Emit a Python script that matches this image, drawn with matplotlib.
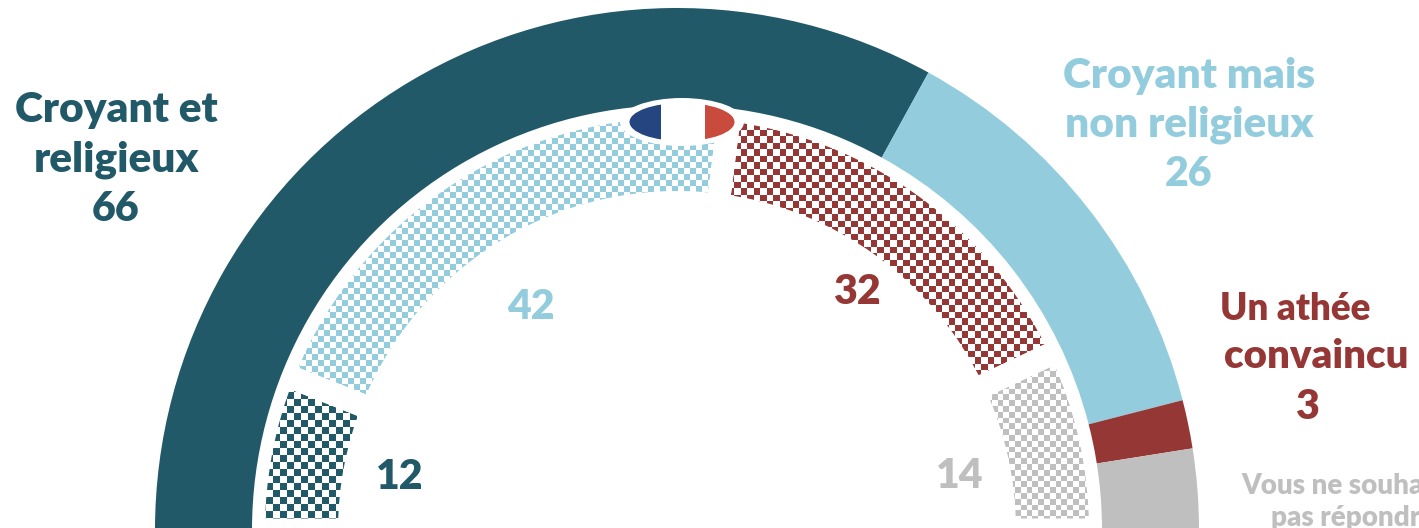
import numpy as np
import matplotlib
matplotlib.use('Agg')
import matplotlib.pyplot as plt
from matplotlib.colors import ListedColormap
from matplotlib.patches import Ellipse, Rectangle

# Outer ring, share of answers
outer_values = [66, 26, 3, 5]
# Inner ring
inner_values = [12, 42, 32, 14]
inner_labels = ['12', '42', '32', '14']

TEAL = '#215968'
SKY = '#93CDDD'
RED = '#953735'
GREY = '#BFBFBF'
colors = [TEAL, SKY, RED, GREY]

# checker size in pixels for each inner slice
cell_sizes = [7, 6, 6.5, 5.8]

# layout, in pixels of the 1419x528 image
W, H = 1419, 528
cx, cy = 677, 530
GAP = 23

plt.rcParams['font.family'] = ['Lato', 'DejaVu Sans']

fig = plt.figure(figsize=(W / 100, H / 100), dpi=100)
ax = fig.add_axes([0, 0, 1, 1])

# y axis runs downwards, so counterclock=True goes left -> top -> right on screen
inner_wedges, _ = ax.pie(inner_values + [sum(inner_values)],
                         colors=['none'] * 5, startangle=180, counterclock=True,
                         radius=423.5, center=(cx, cy),
                         wedgeprops=dict(width=96, edgecolor='white', linewidth=GAP * 0.72,
                                         joinstyle='miter', zorder=2))
inner_wedges[-1].set_visible(False)

# checker fill, clipped by the slices; the white slice edges make the gaps
for wedge, color, cell in zip(inner_wedges, colors, cell_sizes):
    # nearly invisible face, so agg does not clip the stroke at the canvas edge
    wedge.set_facecolor((1, 1, 1, 0.002))
    rows = int(H / cell) + 1
    cols = int(W / cell) + 1
    checker = np.indices((rows, cols)).sum(axis=0) % 2
    img = ax.imshow(checker, cmap=ListedColormap(['white', color]), interpolation='nearest',
                    extent=(0, cols * cell, rows * cell, 0), zorder=1)
    img.set_clip_path(wedge)

outer_wedges, _ = ax.pie(outer_values + [sum(outer_values)],
                         colors=colors + ['none'], startangle=180, counterclock=True,
                         radius=522, center=(cx, cy),
                         wedgeprops=dict(width=97, linewidth=0, zorder=3))

# French flag badge at the top of the arc
ax.add_patch(Ellipse((682, 122), 124, 48, color='white', lw=0, zorder=4))
badge = Ellipse((682, 122), 105, 38, facecolor='white', lw=0, zorder=5)
ax.add_patch(badge)
left_band = Rectangle((625, 100), 36, 44, color='#24457F', lw=0, zorder=6)
right_band = Rectangle((705, 100), 36, 44, color='#C84B3D', lw=0, zorder=6)
for band in (left_band, right_band):
    ax.add_patch(band)
    band.set_clip_path(badge)

big = dict(fontsize=30.5, fontweight='heavy', ha='center', va='center', zorder=7)
num = dict(fontsize=29.5, fontweight='heavy', ha='center', va='center', zorder=7)
ax.text(116, 110, 'Croyant et', color=TEAL, **big)
ax.text(116, 160, 'religieux', color=TEAL, **big)
ax.text(116, 209, str(outer_values[0]), color=TEAL, **num)

ax.text(1189, 76, 'Croyant mais', color=SKY, **big)
ax.text(1189, 125, 'non religieux', color=SKY, **big)
ax.text(1189, 174, str(outer_values[1]), color=SKY, **num)

ax.text(1295, 309, 'Un athée', color=RED, fontsize=26.5, fontweight='heavy',
        ha='center', va='center', zorder=7)
ax.text(1316, 357, 'convaincu', color=RED, fontsize=29, fontweight='heavy',
        ha='center', va='center', zorder=7)
ax.text(1308, 407, str(outer_values[2]), color=RED, **num)

small = dict(fontsize=20, fontweight='heavy', ha='left', va='center', color=GREY, zorder=7)
ax.text(1241, 486, 'Vous ne souhaitez', **small)
ax.text(1271, 518, 'pas répondre', **small)

inner_pos = [(400, 477), (531, 307), (858, 292), (960, 476)]
for label, pos, color in zip(inner_labels, inner_pos, colors):
    ax.text(pos[0], pos[1], label, color=color, **num)

ax.set_xlim(0, W)
ax.set_ylim(H, 0)
ax.set_aspect('auto')
ax.axis('off')

fig.savefig('out.png', dpi=100)
